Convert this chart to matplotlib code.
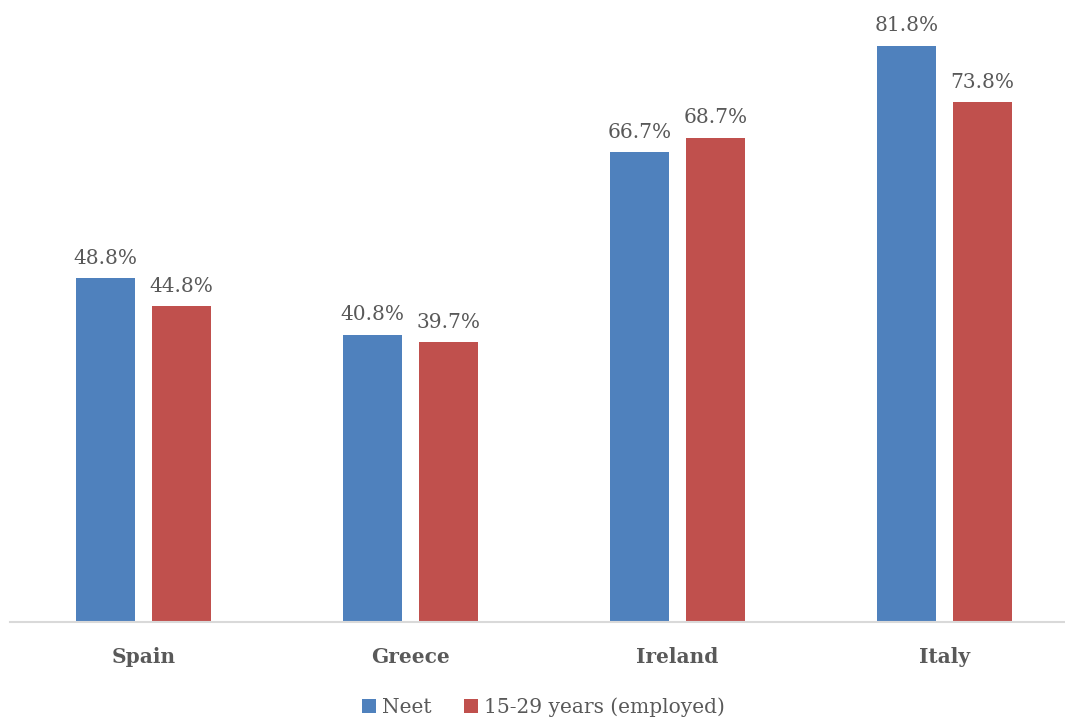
import numpy as np
import matplotlib
matplotlib.use("Agg")
import matplotlib.pyplot as plt

countries = ["Spain", "Greece", "Ireland", "Italy"]
neet = [48.8, 40.8, 66.7, 81.8]
employed = [44.8, 39.7, 68.7, 73.8]
series_names = ["Neet", "15-29 years (employed)"]

blue = "#4f81bd"
red = "#c0504d"
grey = "#595959"

plt.rcParams["font.family"] = ["DejaVu Serif"]

fig = plt.figure(figsize=(10.65, 7.19), dpi=100)
ax = fig.add_axes([10 / 1065, 97 / 719, 1068 / 1065, 622 / 719])

x = np.arange(len(countries))
w = 0.221
off = 0.142
b1 = ax.bar(x - off, neet, w, color=blue, label=series_names[0])
b2 = ax.bar(x + off, employed, w, color=red, label=series_names[1])

# value labels above each bar
for bars, vals in ((b1, neet), (b2, employed)):
    for r, v in zip(bars, vals):
        ax.text(r.get_x() + r.get_width() / 2, v + 1.5, f"{v:.1f}%",
                ha="center", va="bottom", fontsize=14.5, color=grey)

ax.set_xlim(-0.5, 3.5)
ax.set_ylim(0, 88.3)
ax.set_yticks([])
ax.set_xticks(x)
ax.set_xticklabels(countries, fontsize=14.5, fontweight="bold", color=grey)
ax.tick_params(axis="x", length=0, pad=18)
for s in ["top", "right", "left"]:
    ax.spines[s].set_visible(False)
ax.spines["bottom"].set_color("#d9d9d9")
ax.spines["bottom"].set_linewidth(1.5)

leg = fig.legend(loc="center", bbox_to_anchor=(0.51, 12 / 719), ncol=2,
                 frameon=False, fontsize=14.5, handlelength=0.7, handleheight=0.7,
                 handletextpad=0.3, columnspacing=1.6)
for t in leg.get_texts():
    t.set_color(grey)

fig.savefig("out.png", dpi=100)
